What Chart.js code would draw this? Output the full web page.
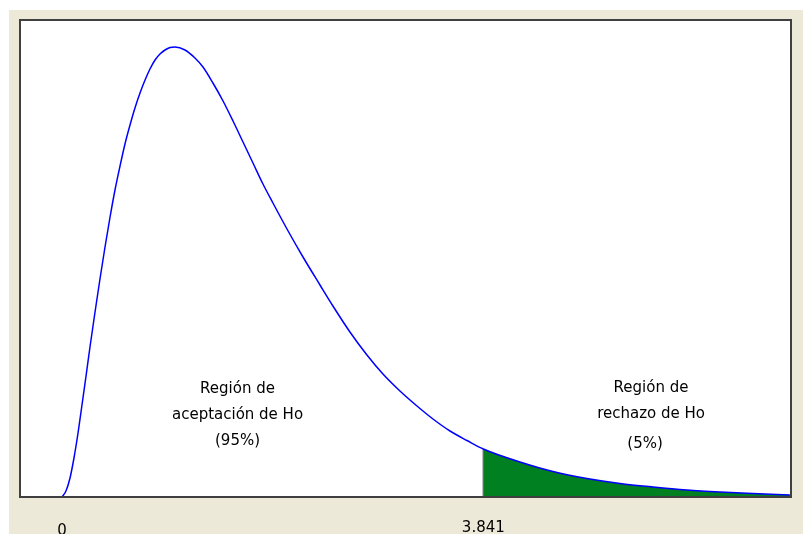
<!DOCTYPE html>
<html>
<head>
<meta charset="utf-8">
<script src="https://cdn.jsdelivr.net/npm/chart.js@4"></script>
<style>
  body { margin: 0; background: #fff; }
  canvas { display: block; }
</style>
</head>
<body>
<canvas id="chiChart" width="803" height="534"></canvas>
<script>
// curve (x = statistic, y = density, arbitrary units)
const xValues = [0, 0.036, 0.073, 0.109, 0.146, 0.182, 0.219, 0.255, 0.301, 0.346, 0.392, 0.438, 0.483, 0.529, 0.574, 0.620, 0.665, 0.711, 0.757, 0.802,
    0.848, 0.893, 0.939, 0.985, 1.030, 1.121, 1.212, 1.285, 1.376, 1.468, 1.559, 1.650, 1.741, 1.832, 1.923, 2.051, 2.197, 2.352, 2.470, 2.625,
    2.780, 2.926, 3.081, 3.236, 3.382, 3.537, 3.692, 3.841, 4.175, 4.476, 4.786, 5.087, 5.388, 5.697, 5.998, 6.299, 6.636];
const yValues = [0, 0.006, 0.019, 0.039, 0.064, 0.092, 0.121, 0.150, 0.185, 0.218, 0.250, 0.280, 0.307, 0.331, 0.353, 0.372, 0.389, 0.404, 0.417, 0.428,
    0.437, 0.443, 0.447, 0.4495, 0.450, 0.447, 0.439, 0.430, 0.414, 0.396, 0.376, 0.355, 0.334, 0.313, 0.294, 0.268, 0.240, 0.212, 0.191, 0.165,
    0.142, 0.123, 0.106, 0.091, 0.078, 0.066, 0.0565, 0.048, 0.035, 0.0255, 0.0185, 0.0135, 0.010, 0.007, 0.005, 0.0035, 0.002];
const criticalValue = 3.841;
const tickValues = [0, 3.841];
const tickLabels = ['0', '3.841'];
const acceptLines = ['Región de', 'aceptación de Ho', '(95%)'];
const rejectLines = ['Región de', 'rechazo de Ho', '(5%)'];

const curve = xValues.map((x, i) => ({ x: x, y: yValues[i] }));
const tail = curve.filter(p => p.x >= criticalValue);
const critY = yValues[xValues.indexOf(criticalValue)];

const frame = {
    id: 'frame',
    beforeDraw(chart) {
        const { ctx, chartArea: a } = chart;
        ctx.save();
        ctx.fillStyle = '#fff';
        ctx.fillRect(0, 0, chart.width, chart.height);
        ctx.fillStyle = '#ECE9D8';
        ctx.fillRect(9, 10, chart.width - 9, chart.height - 10);
        ctx.fillStyle = '#fff';
        ctx.fillRect(a.left, a.top, a.right - a.left, a.bottom - a.top);
        ctx.restore();
    },
    afterDraw(chart) {
        const { ctx, chartArea: a } = chart;
        const xs = chart.scales.x;
        ctx.save();
        ctx.strokeStyle = '#404040';
        ctx.lineWidth = 2;
        ctx.strokeRect(a.left, a.top, a.right - a.left, a.bottom - a.top);

        ctx.fillStyle = '#000';
        ctx.font = '15px "DejaVu Sans", Verdana, sans-serif';
        ctx.textAlign = 'center';
        ctx.textBaseline = 'top';
        tickValues.forEach((v, i) => {
            ctx.fillText(tickLabels[i], xs.getPixelForValue(v), i === 0 ? 524 : 521);
        });

        ctx.textBaseline = 'middle';
        acceptLines.forEach((t, i) => ctx.fillText(t, xs.getPixelForValue(1.6), 389 + i * 26));
        rejectLines.forEach((t, i) => ctx.fillText(t, xs.getPixelForValue(5.37) - (i === 2 ? 6 : 0), 388 + i * 26 + (i === 2 ? 4 : 0)));
        ctx.restore();
    }
};

new Chart(document.getElementById('chiChart'), {
    type: 'scatter',
    data: {
        datasets: [
            {
                data: curve,
                showLine: true,
                borderColor: '#0000ff',
                borderWidth: 1.5,
                pointRadius: 0,
                cubicInterpolationMode: 'monotone',
                fill: false,
                order: 0
            },
            {
                data: tail,
                showLine: true,
                borderWidth: 0,
                borderColor: 'rgba(0,0,0,0)',
                backgroundColor: '#008020',
                pointRadius: 0,
                cubicInterpolationMode: 'monotone',
                fill: 'origin',
                order: 2
            },
            {
                data: [{ x: criticalValue, y: 0 }, { x: criticalValue, y: critY }],
                showLine: true,
                borderColor: '#6a6a6a',
                borderWidth: 1.5,
                pointRadius: 0,
                order: 1
            }
        ]
    },
    options: {
        responsive: false,
        animation: false,
        layout: { padding: { left: 20, top: 20, right: 12, bottom: 37 } },
        plugins: { legend: { display: false }, tooltip: { enabled: false } },
        scales: {
            x: { type: 'linear', display: false, min: -0.383, max: 6.646 },
            y: { display: false, min: 0, max: 0.477 }
        }
    },
    plugins: [frame]
});
</script>
</body>
</html>
